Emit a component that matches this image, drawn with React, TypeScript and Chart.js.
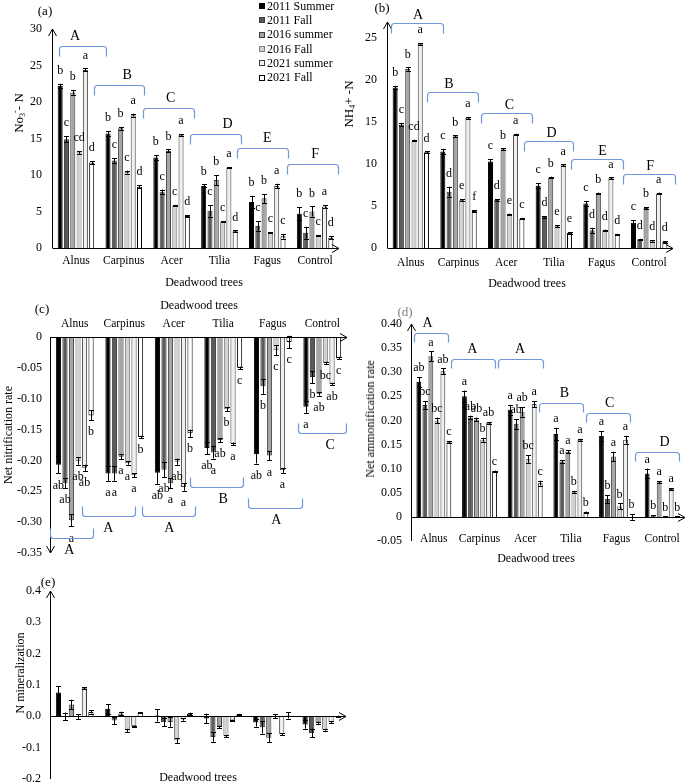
import React, { useEffect, useRef } from "react";
import { Chart, registerables } from "chart.js";
Chart.register(...registerables);

const FONT = '"Liberation Serif", "Times New Roman", serif';
const PAGE_W = 685;
const PAGE_H = 783;
const CANVAS_H = 840;

const categories = ["Alnus", "Carpinus", "Acer", "Tilia", "Fagus", "Control"];
const seriesNames = ["2011 Summer", "2011 Fall", "2016 summer", "2016 Fall", "2021 summer", "2021 Fall"];
const seriesFills = ["#000000", "#5a5a5a", "#a5a5a5", "#d2d2d2", "#efefef", "#ffffff"];
const seriesBorders = ["#000000", "#3c3c3c", "#3c3c3c", "#808080", "#3c3c3c", "#000000"];

// (a) NO3- N  (rows = series, columns = categories)
const no3Values = [
  [22.2, 15.7, 12.4, 8.5, 6.3, 4.7],
  [14.9, 12.0, 7.7, 5.1, 3.0, 2.1],
  [21.3, 16.4, 13.3, 9.3, 6.8, 5.0],
  [13.1, 10.4, 5.8, 3.6, 2.1, 1.7],
  [24.4, 18.2, 15.5, 11.0, 8.5, 5.7],
  [11.7, 8.4, 4.4, 2.3, 1.6, 1.4],
];
const no3Errors = [
  [0.3, 0.3, 0.3, 0.2, 0.8, 0.9],
  [0.4, 0.3, 0.3, 0.8, 0.7, 0.8],
  [0.3, 0.2, 0.2, 0.7, 0.6, 0.7],
  [0.2, 0.2, 0.1, 0.1, 0.1, 0.1],
  [0.2, 0.2, 0.1, 0.1, 0.3, 0.2],
  [0.2, 0.2, 0.1, 0.1, 0.3, 0.2],
];
const no3Letters = [
  ["b", "b", "b", "b", "b", "b"],
  ["c", "c", "c", "c", "c", "c"],
  ["b", "b", "b", "b", "b", "b"],
  ["cd", "c", "c", "c", "c", "c"],
  ["a", "a", "a", "a", "a", "a"],
  ["d", "d", "d", "d", "c", "d"],
];
const no3Brackets = [
  { from: -0.35, to: 0.63, y: 27.7, label: "A", at: -0.02 },
  { from: 0.38, to: 1.42, y: 22.3, label: "B", at: 1.07 },
  { from: 1.4, to: 2.46, y: 19.2, label: "C", at: 1.98 },
  { from: 2.38, to: 3.45, y: 15.6, label: "D", at: 3.17 },
  { from: 3.36, to: 4.43, y: 13.7, label: "E", at: 4.0 },
  { from: 4.41, to: 5.47, y: 11.5, label: "F", at: 5.0 },
];

// (b) NH4+ -N
const nh4Values = [
  [19.1, 11.5, 10.3, 7.4, 5.3, 3.0],
  [14.7, 6.7, 5.7, 3.7, 2.1, 1.0],
  [21.3, 13.3, 11.75, 8.4, 6.5, 4.75],
  [12.8, 5.7, 4.0, 2.6, 2.1, 0.85],
  [24.3, 15.5, 13.5, 9.85, 8.3, 6.5],
  [11.4, 4.4, 3.5, 1.8, 1.6, 0.7],
];
const nh4Errors = [
  [0.2, 0.3, 0.3, 0.3, 0.3, 0.3],
  [0.2, 0.6, 0.1, 0.1, 0.3, 0.1],
  [0.2, 0.1, 0.1, 0.1, 0.1, 0.1],
  [0.1, 0.1, 0.1, 0.1, 0.1, 0.1],
  [0.1, 0.1, 0.1, 0.1, 0.1, 0.1],
  [0.1, 0.1, 0.1, 0.1, 0.1, 0.1],
];
const nh4Letters = [
  ["b", "c", "c", "c", "c", "c"],
  ["c", "d", "d", "d", "d", "d"],
  ["b", "b", "b", "b", "b", "b"],
  ["cd", "e", "e", "e", "d", "d"],
  ["a", "a", "a", "a", "a", "a"],
  ["d", "f", "c", "e", "d", "d"],
];
const nh4Brackets = [
  { from: -0.42, to: 0.67, y: 26.8, label: "A", at: 0.15 },
  { from: 0.34, to: 1.4, y: 18.6, label: "B", at: 0.8 },
  { from: 1.47, to: 2.55, y: 16.1, label: "C", at: 2.07 },
  { from: 2.37, to: 3.41, y: 12.7, label: "D", at: 2.95 },
  { from: 3.37, to: 4.46, y: 10.6, label: "E", at: 4.02 },
  { from: 4.46, to: 5.55, y: 8.8, label: "F", at: 5.02 },
];

// (c) Net nitrification rate
const nitrificationValues = [
  [-0.207, -0.221, -0.22, -0.18, -0.19, -0.113],
  [-0.237, -0.221, -0.215, -0.187, -0.08, -0.065],
  [-0.297, -0.194, -0.237, -0.167, -0.192, -0.092],
  [-0.201, -0.204, -0.202, -0.117, -0.021, -0.042],
  [-0.212, -0.224, -0.243, -0.173, -0.216, -0.076],
  [-0.127, -0.162, -0.156, -0.05, -0.008, -0.034],
];
const nitrificationErrors = [
  [0.014, 0.012, 0.018, 0.01, 0.015, 0.01],
  [0.008, 0.012, 0.012, 0.01, 0.012, 0.01],
  [0.01, 0.004, 0.008, 0.003, 0.008, 0.003],
  [0.006, 0.003, 0.005, 0.003, 0.008, 0.002],
  [0.005, 0.003, 0.006, 0.002, 0.004, 0.002],
  [0.008, 0.002, 0.006, 0.002, 0.01, 0.002],
];
const nitrificationLetters = [
  ["ab", "a", "ab", "ab", "ab", "a"],
  ["ab", "a", "ab", "a", "b", "b"],
  ["a", "a", "a", "ab", "a", "ab"],
  ["ab", "a", "ab", "b", "c", "bc"],
  ["ab", "a", "a", "a", "a", "ab"],
  ["b", "b", "b", "c", "c", "c"],
];
const nitrificationBrackets = [
  { from: -0.49, to: 0.37, y: -0.326, label: "A", at: -0.11 },
  { from: 0.15, to: 1.22, y: -0.29, label: "A", at: 0.68 },
  { from: 1.36, to: 2.43, y: -0.29, label: "A", at: 1.91 },
  { from: 2.33, to: 3.4, y: -0.243, label: "B", at: 3.0 },
  { from: 3.5, to: 4.6, y: -0.277, label: "A", at: 4.07 },
  { from: 4.5, to: 5.47, y: -0.156, label: "C", at: 5.16 },
];

// (d) Net ammonification rate
const ammonificationValues = [
  [0.28, 0.25, 0.222, 0.172, 0.168, 0.09],
  [0.232, 0.206, 0.193, 0.115, 0.037, 0.002],
  [0.333, 0.202, 0.218, 0.135, 0.125, 0.072],
  [0.2, 0.16, 0.12, 0.052, 0.022, 0.0],
  [0.302, 0.195, 0.234, 0.16, 0.16, 0.058],
  [0.155, 0.095, 0.07, 0.01, 0.0, 0.0],
];
const ammonificationErrors = [
  [0.01, 0.012, 0.01, 0.012, 0.01, 0.01],
  [0.008, 0.004, 0.01, 0.003, 0.008, 0.002],
  [0.01, 0.004, 0.01, 0.003, 0.01, 0.002],
  [0.006, 0.004, 0.008, 0.002, 0.006, 0.001],
  [0.006, 0.002, 0.006, 0.002, 0.008, 0.002],
  [0.002, 0.001, 0.005, 0.001, 0.006, 0.001],
];
const ammonificationLetters = [
  ["ab", "a", "a", "a", "a", "a"],
  ["bc", "ab", "ab", "a", "b", "b"],
  ["a", "ab", "ab", "a", "a", "a"],
  ["bc", "b", "bc", "b", "b", "b"],
  ["ab", "ab", "a", "a", "a", "a"],
  ["c", "c", "c", "b", "b", "b"],
];
const ammonificationBrackets = [
  { from: -0.43, to: 0.32, y: 0.381, label: "A", at: -0.14 },
  { from: 0.38, to: 1.33, y: 0.327, label: "A", at: 0.84 },
  { from: 1.41, to: 2.38, y: 0.327, label: "A", at: 1.89 },
  { from: 2.31, to: 3.27, y: 0.236, label: "B", at: 2.86 },
  { from: 3.34, to: 4.3, y: 0.216, label: "C", at: 3.85 },
  { from: 4.41, to: 5.37, y: 0.135, label: "D", at: 5.05 },
];

// (e) N mineralization
const mineralizationValues = [
  [0.076, 0.024, 0.003, -0.007, -0.02, -0.026],
  [0.0, -0.013, -0.018, -0.066, -0.035, -0.053],
  [0.038, 0.009, -0.018, -0.034, -0.068, -0.021],
  [-0.002, -0.045, -0.077, -0.064, 0.0, -0.043],
  [0.09, -0.032, -0.01, -0.013, -0.057, -0.019],
  [0.014, 0.012, 0.008, 0.006, 0.003, 0.0],
];
const mineralizationErrors = [
  [0.021, 0.015, 0.02, 0.015, 0.013, 0.013],
  [0.012, 0.012, 0.014, 0.015, 0.02, 0.014],
  [0.015, 0.006, 0.015, 0.004, 0.015, 0.004],
  [0.008, 0.005, 0.008, 0.003, 0.006, 0.003],
  [0.003, 0.002, 0.004, 0.002, 0.004, 0.003],
  [0.005, 0.002, 0.004, 0.002, 0.01, 0.002],
];

type Bracket = { from: number; to: number; y: number; label: string; at: number };
type Spec = {
  values: number[][];
  errors: number[][];
  letters?: string[][];
  brackets?: Bracket[];
  area: { l: number; t: number; r: number; b: number };
  yMin: number;
  yMax: number;
  step: number;
  xPos: "top" | "bottom" | "none";
  xPad: number;
  innerLabels?: number;
  yPad: number;
  letterGap: number;
  bracketDrop: number;
  bracketLabelGap: number;
  bracketDir: 1 | -1;
  yArrow: "top" | "bottom";
};

const X_H = 20;
const Y_W = 40;
const BRACKET_COLOR = "#6f97d9";

function arrowHead(ctx: CanvasRenderingContext2D, x: number, y: number, dx: number, dy: number) {
  const len = 7;
  const half = 4;
  const bx = x - dx * len;
  const by = y - dy * len;
  ctx.beginPath();
  ctx.moveTo(bx + dy * half, by - dx * half);
  ctx.lineTo(x, y);
  ctx.lineTo(bx - dy * half, by + dx * half);
  ctx.stroke();
}

const decorPlugin = {
  id: "decor",
  afterDatasetsDraw(chart: any, _args: any, opts: any) {
    const spec: Spec = opts.spec;
    const ctx: CanvasRenderingContext2D = chart.ctx;
    const area = chart.chartArea;
    const xs = chart.scales.x;
    const ys = chart.scales.y;
    ctx.save();

    // axes
    ctx.strokeStyle = "#000";
    ctx.lineWidth = 1;
    const y0 = Math.round(ys.getPixelForValue(0)) + 0.5;
    const x0 = Math.round(area.left) + 0.5;
    ctx.beginPath();
    ctx.moveTo(x0, y0);
    ctx.lineTo(area.right, y0);
    ctx.stroke();
    arrowHead(ctx, area.right, y0, 1, 0);
    const yTop = ys.getPixelForValue(spec.yMax);
    const yBot = ys.getPixelForValue(spec.yMin);
    ctx.beginPath();
    ctx.moveTo(x0, yTop);
    ctx.lineTo(x0, yBot);
    ctx.stroke();
    if (spec.yArrow === "top") arrowHead(ctx, x0, yTop, 0, -1);
    else arrowHead(ctx, x0, yBot, 0, 1);

    // category labels placed just under the zero line
    if (spec.innerLabels !== undefined) {
      ctx.fillStyle = "#000";
      ctx.font = `11.5px ${FONT}`;
      ctx.textAlign = "center";
      ctx.textBaseline = "middle";
      categories.forEach((c, j) => {
        ctx.fillText(c, xs.getPixelForValue(j), y0 + (spec.innerLabels as number));
      });
    }

    // error bars
    spec.values.forEach((row, i) => {
      const meta = chart.getDatasetMeta(i);
      row.forEach((v, j) => {
        const el = meta.data[j];
        const e = spec.errors[i][j];
        const x = Math.round(el.x) + 0.5;
        const ya = ys.getPixelForValue(v - e);
        const yb = ys.getPixelForValue(v + e);
        ctx.beginPath();
        ctx.moveTo(x, ya);
        ctx.lineTo(x, yb);
        ctx.moveTo(x - 2.5, Math.round(ya) + 0.5);
        ctx.lineTo(x + 2.5, Math.round(ya) + 0.5);
        ctx.moveTo(x - 2.5, Math.round(yb) + 0.5);
        ctx.lineTo(x + 2.5, Math.round(yb) + 0.5);
        ctx.stroke();
      });
    });

    // significance letters
    if (spec.letters) {
      ctx.fillStyle = "#000";
      ctx.font = `12px ${FONT}`;
      ctx.textAlign = "center";
      ctx.textBaseline = "middle";
      spec.letters.forEach((row, i) => {
        const meta = chart.getDatasetMeta(i);
        row.forEach((txt, j) => {
          const v = spec.values[i][j];
          const e = spec.errors[i][j];
          const s = v >= 0 ? 1 : -1;
          const yOut = ys.getPixelForValue(v + s * e);
          ctx.fillText(txt, meta.data[j].x, yOut - s * spec.letterGap);
        });
      });
    }

    // group brackets
    if (spec.brackets) {
      ctx.strokeStyle = BRACKET_COLOR;
      ctx.lineWidth = 1.2;
      ctx.fillStyle = "#000";
      ctx.font = `14px ${FONT}`;
      ctx.textAlign = "center";
      ctx.textBaseline = "middle";
      const d = spec.bracketDir;
      spec.brackets.forEach((b) => {
        const x1 = Math.round(xs.getPixelForValue(b.from)) + 0.5;
        const x2 = Math.round(xs.getPixelForValue(b.to)) + 0.5;
        const yb = Math.round(ys.getPixelForValue(b.y)) + 0.5;
        const drop = spec.bracketDrop;
        const rad = 3;
        ctx.beginPath();
        ctx.moveTo(x1, yb + d * drop);
        ctx.arcTo(x1, yb, x1 + rad, yb, rad);
        ctx.arcTo(x2, yb, x2, yb + d * rad, rad);
        ctx.lineTo(x2, yb + d * drop);
        ctx.stroke();
        ctx.fillText(b.label, xs.getPixelForValue(b.at), yb - d * spec.bracketLabelGap);
      });
    }
    ctx.restore();
  },
};

function buildConfig(spec: Spec): any {
  const { l, t, r, b } = spec.area;
  const xH = spec.xPos === "none" ? 0 : X_H;
  const padding = {
    left: l - Y_W,
    right: PAGE_W - r,
    top: spec.xPos === "top" ? t - xH : t,
    bottom: spec.xPos === "bottom" ? CANVAS_H - b - xH : CANVAS_H - b,
  };
  return {
    type: "bar",
    data: {
      labels: categories,
      datasets: spec.values.map((row, i) => ({
        label: seriesNames[i],
        data: row,
        backgroundColor: seriesFills[i],
        borderColor: seriesBorders[i],
        borderWidth: 1,
        categoryPercentage: 0.79,
        barPercentage: 0.8,
      })),
    },
    options: {
      responsive: false,
      animation: false,
      devicePixelRatio: 1,
      events: [],
      layout: { padding },
      plugins: {
        legend: { display: false },
        tooltip: { enabled: false },
        decor: { spec },
      },
      scales: {
        x: {
          type: "category",
          position: spec.xPos === "top" ? "top" : "bottom",
          display: spec.xPos !== "none",
          grid: { display: false, drawTicks: false },
          border: { display: false },
          ticks: {
            font: { family: FONT, size: 11.5 },
            color: "#000",
            padding: spec.xPad,
            maxRotation: 0,
            autoSkip: false,
          },
          afterFit: (s: any) => {
            s.height = xH;
          },
        },
        y: {
          min: spec.yMin,
          max: spec.yMax,
          grid: { display: false, drawTicks: false },
          border: { display: false },
          ticks: {
            stepSize: spec.step,
            includeBounds: false,
            font: { family: FONT, size: 12 },
            color: "#000",
            padding: spec.yPad,
          },
          afterFit: (s: any) => {
            s.width = Y_W;
          },
        },
      },
    },
    plugins: [decorPlugin],
  };
}

const panels: Spec[] = [
  {
    values: no3Values,
    errors: no3Errors,
    letters: no3Letters,
    brackets: no3Brackets,
    area: { l: 52, t: 29, r: 339, b: 248 },
    yMin: 0,
    yMax: 30,
    step: 5,
    xPos: "bottom",
    xPad: 6,
    yPad: 10,
    letterGap: 13,
    bracketDrop: 10,
    bracketLabelGap: 10,
    bracketDir: 1,
    yArrow: "top",
  },
  {
    values: nh4Values,
    errors: nh4Errors,
    letters: nh4Letters,
    brackets: nh4Brackets,
    area: { l: 387, t: 22, r: 673, b: 248 },
    yMin: 0,
    yMax: 26.9,
    step: 5,
    xPos: "bottom",
    xPad: 8,
    yPad: 10,
    letterGap: 13,
    bracketDrop: 10,
    bracketLabelGap: 8,
    bracketDir: 1,
    yArrow: "top",
  },
  {
    values: nitrificationValues,
    errors: nitrificationErrors,
    letters: nitrificationLetters,
    brackets: nitrificationBrackets,
    area: { l: 50, t: 337, r: 347, b: 553 },
    yMin: -0.35,
    yMax: 0,
    step: 0.05,
    xPos: "top",
    xPad: 6,
    yPad: 8,
    letterGap: 12,
    bracketDrop: 10,
    bracketLabelGap: 12,
    bracketDir: -1,
    yArrow: "bottom",
  },
  {
    values: ammonificationValues,
    errors: ammonificationErrors,
    letters: ammonificationLetters,
    brackets: ammonificationBrackets,
    area: { l: 411, t: 324, r: 685, b: 541 },
    yMin: -0.05,
    yMax: 0.4,
    step: 0.05,
    xPos: "none",
    xPad: 0,
    innerLabels: 21,
    yPad: 9,
    letterGap: 9,
    bracketDrop: 9,
    bracketLabelGap: 10,
    bracketDir: 1,
    yArrow: "top",
  },
  {
    values: mineralizationValues,
    errors: mineralizationErrors,
    area: { l: 50, t: 591, r: 346, b: 779 },
    yMin: -0.2,
    yMax: 0.4,
    step: 0.1,
    xPos: "none",
    xPad: 0,
    yPad: 9,
    letterGap: 0,
    bracketDrop: 0,
    bracketLabelGap: 0,
    bracketDir: 1,
    yArrow: "top",
  },
];

function Panel({ spec }: { spec: Spec }) {
  const ref = useRef<HTMLCanvasElement>(null);
  useEffect(() => {
    const chart = new Chart(ref.current as HTMLCanvasElement, buildConfig(spec));
    return () => chart.destroy();
  }, [spec]);
  return (
    <canvas
      ref={ref}
      width={PAGE_W}
      height={CANVAS_H}
      style={{ position: "absolute", left: 0, top: 0, width: PAGE_W, height: CANVAS_H }}
    />
  );
}

function Txt({
  x,
  y,
  children,
  rotate,
  size = 12,
  color = "#000",
}: {
  x: number;
  y: number;
  children: React.ReactNode;
  rotate?: boolean;
  size?: number;
  color?: string;
}) {
  return (
    <div
      style={{
        position: "absolute",
        left: x,
        top: y,
        transform: `translate(-50%, -50%)${rotate ? " rotate(-90deg)" : ""}`,
        whiteSpace: "nowrap",
        fontFamily: FONT,
        fontSize: size,
        color,
        lineHeight: 1,
      }}
    >
      {children}
    </div>
  );
}

const subStyle: React.CSSProperties = { fontSize: 8, verticalAlign: "-2px", lineHeight: 0 };
const supStyle: React.CSSProperties = { fontSize: 8, verticalAlign: "5px", lineHeight: 0 };

export default function App() {
  return (
    <div
      style={{
        position: "absolute",
        left: 0,
        top: 0,
        width: PAGE_W,
        height: PAGE_H,
        background: "#fff",
        overflow: "hidden",
      }}
    >
      {panels.map((p, i) => (
        <Panel key={i} spec={p} />
      ))}

      <Txt x={45} y={10} size={13}>(a)</Txt>
      <Txt x={382} y={7} size={13}>(b)</Txt>
      <Txt x={42} y={308} size={13}>(c)</Txt>
      <Txt x={405} y={311} size={13} color="#808080">(d)</Txt>
      <Txt x={48} y={581} size={13}>(e)</Txt>

      <Txt x={204} y={282}>Deadwood trees</Txt>
      <Txt x={527} y={283}>Deadwood trees</Txt>
      <Txt x={199} y={305}>Deadwood trees</Txt>
      <Txt x={536} y={558}>Deadwood trees</Txt>
      <Txt x={198} y={777}>Deadwood trees</Txt>

      <Txt x={18} y={113} rotate size={13}>
        No<span style={subStyle}>3</span>
        <span style={supStyle}>-</span>- N
      </Txt>
      <Txt x={348} y={104} rotate size={13}>
        NH<span style={subStyle}>4</span>+ -N
      </Txt>
      <Txt x={8} y={435} rotate>Net nitrification rate</Txt>
      <Txt x={370} y={419} rotate>Net ammonification rate</Txt>
      <Txt x={20} y={673} rotate>N mineralization</Txt>

      {seriesNames.map((name, i) => (
        <div
          key={name}
          style={{
            position: "absolute",
            left: 259,
            top: 6 + i * 14.35 - 7,
            height: 14,
            display: "flex",
            alignItems: "center",
            fontFamily: FONT,
            fontSize: 12,
            whiteSpace: "nowrap",
          }}
        >
          <span
            style={{
              display: "inline-block",
              width: 4,
              height: 4,
              background: seriesFills[i],
              border: `1px solid ${seriesBorders[i]}`,
              marginRight: 2,
            }}
          />
          {name}
        </div>
      ))}
    </div>
  );
}
